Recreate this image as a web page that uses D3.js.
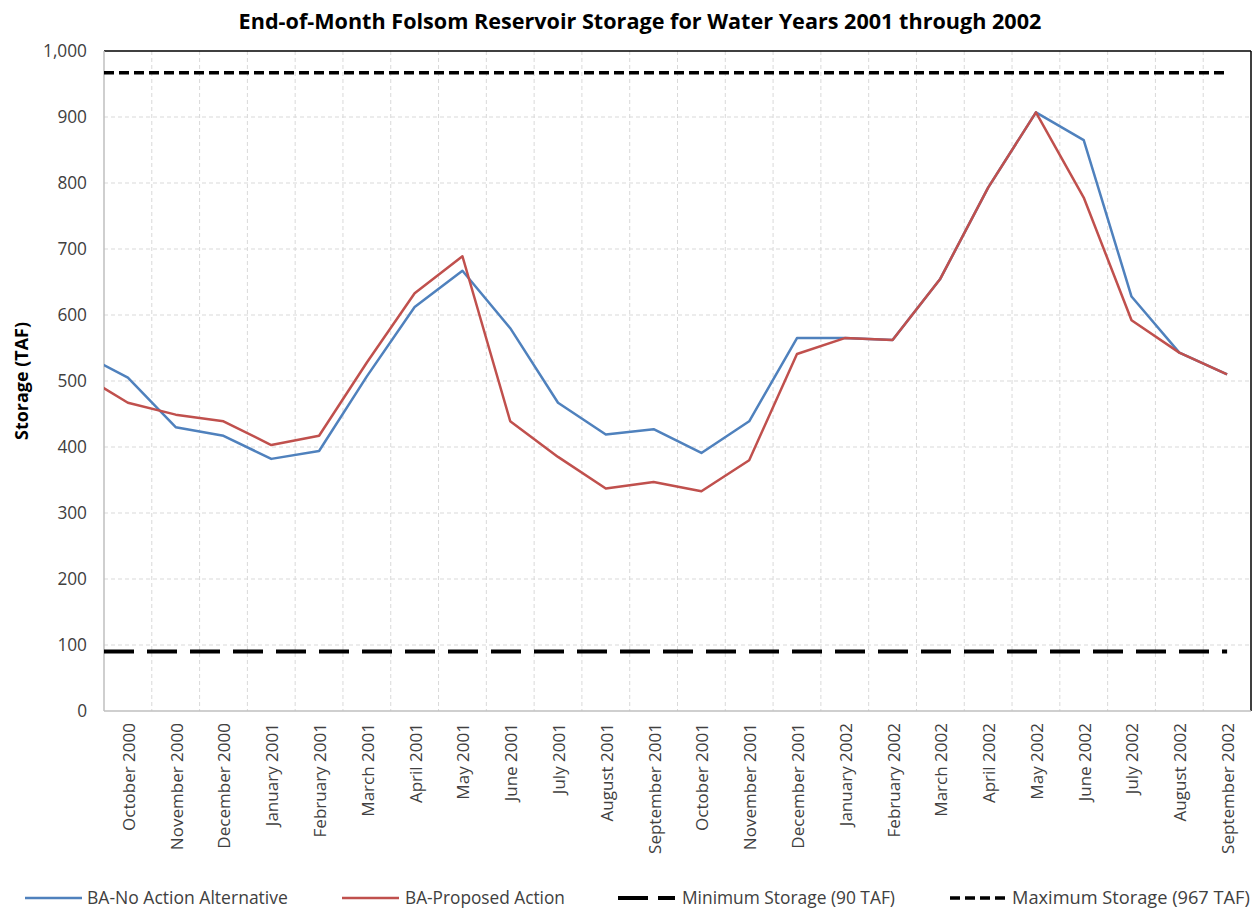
<!DOCTYPE html>
<html>
<head>
<meta charset="utf-8">
<script src="https://cdn.jsdelivr.net/npm/d3@7/dist/d3.min.js"></script>
<style>
  html, body { margin: 0; padding: 0; background: #fff; }
  text { font-family: "Open Sans", "Noto Sans", sans-serif; }
</style>
</head>
<body>
<svg id="chart" width="1259" height="910"></svg>
<script>
// ---------------- data ----------------
const months = ["October 2000","November 2000","December 2000","January 2001","February 2001","March 2001",
  "April 2001","May 2001","June 2001","July 2001","August 2001","September 2001",
  "October 2001","November 2001","December 2001","January 2002","February 2002","March 2002",
  "April 2002","May 2002","June 2002","July 2002","August 2002","September 2002"];
const noAction = [505, 430, 417, 382, 394, 507, 612, 667, 580, 467, 419, 427,
                  391, 439, 565, 565, 562, 655, 793, 907, 865, 628, 543, 510];
const proposed = [467, 449, 439, 403, 417, 528, 633, 689, 439, 385, 337, 347,
                  333, 380, 541, 565, 562, 655, 793, 907, 778, 592, 543, 510];
// end of September 2000 (preceding month, only its segment into the plot is visible)
const noActionPrior = 543;
const proposedPrior = 511;
const minStorage = 90;
const maxStorage = 967;
const yTicks = [0, 100, 200, 300, 400, 500, 600, 700, 800, 900, 1000];
const seriesNames = ["BA-No Action Alternative", "BA-Proposed Action", "Minimum Storage (90 TAF)", "Maximum Storage (967 TAF)"];
const titleText = "End-of-Month Folsom Reservoir Storage for Water Years 2001 through 2002";
const yLabel = "Storage (TAF)";

// ---------------- layout ----------------
const svg = d3.select("#chart");
const L = 104, R = 1251, T = 51, B = 711;
const blue = "#4F81BD", red = "#C0504D";

const x = d3.scaleBand().domain(months).range([L, R]).padding(0);
const y = d3.scaleLinear().domain([0, 1000]).range([B, T]);
const cx = d => x(d) + x.bandwidth() / 2;

function fit(sel, target) {
  const w = sel.node().getComputedTextLength();
  const fs = parseFloat(sel.attr("font-size"));
  sel.attr("font-size", (fs * target / w).toFixed(2));
}

// gridlines
const grid = svg.append("g");
grid.selectAll("line.h").data(yTicks.filter(t => t > 0 && t < 1000)).join("line")
  .attr("x1", L).attr("x2", R).attr("y1", d => y(d)).attr("y2", d => y(d))
  .attr("stroke", "#d9d9d9").attr("stroke-width", 1).attr("stroke-dasharray", "4,3");
grid.selectAll("line.v").data(months.slice(1)).join("line")
  .attr("x1", d => x(d)).attr("x2", d => x(d)).attr("y1", T).attr("y2", B)
  .attr("stroke", "#d9d9d9").attr("stroke-width", 1).attr("stroke-dasharray", "4,3");

// plot border (top/right dark), axes gray
svg.append("line").attr("x1", L).attr("x2", R).attr("y1", T).attr("y2", T).attr("stroke", "#000").attr("stroke-width", 1.5);
svg.append("line").attr("x1", R).attr("x2", R).attr("y1", T).attr("y2", B).attr("stroke", "#000").attr("stroke-width", 1.5);
svg.append("line").attr("x1", L).attr("x2", L).attr("y1", T).attr("y2", B).attr("stroke", "#bfbfbf").attr("stroke-width", 1.5);
svg.append("line").attr("x1", L).attr("x2", R).attr("y1", B).attr("y2", B).attr("stroke", "#bfbfbf").attr("stroke-width", 1.5);

// clip
svg.append("clipPath").attr("id", "clip").append("rect")
  .attr("x", L).attr("y", T - 5).attr("width", R - L).attr("height", B - T + 10);

const plot = svg.append("g").attr("clip-path", "url(#clip)");
const lastX = cx(months[months.length - 1]);

// min / max
plot.append("line").attr("x1", L).attr("x2", lastX).attr("y1", y(minStorage)).attr("y2", y(minStorage))
  .attr("stroke", "#000").attr("stroke-width", 4).attr("stroke-dasharray", "30,13");
plot.append("line").attr("x1", L).attr("x2", lastX).attr("y1", y(maxStorage)).attr("y2", y(maxStorage))
  .attr("stroke", "#000").attr("stroke-width", 3.5).attr("stroke-dasharray", "10,5");

const line = d3.line().x(d => d[0]).y(d => y(d[1]));
function pts(prior, arr) {
  const p = [[cx(months[0]) - x.bandwidth(), prior]];
  arr.forEach((v, i) => p.push([cx(months[i]), v]));
  return p;
}
plot.append("path").attr("d", line(pts(noActionPrior, noAction)))
  .attr("fill", "none").attr("stroke", blue).attr("stroke-width", 2.5).attr("stroke-linejoin", "round");
plot.append("path").attr("d", line(pts(proposedPrior, proposed)))
  .attr("fill", "none").attr("stroke", red).attr("stroke-width", 2.5).attr("stroke-linejoin", "round");

// y ticks
const yt = svg.append("g").selectAll("text").data(yTicks).join("text")
  .attr("x", 87).attr("y", d => y(d)).attr("dy", "0.35em").attr("text-anchor", "end")
  .attr("font-size", 14).attr("fill", "#404040")
  .text(d => d3.format(",")(d));
// fit by "1,000"
{
  const n = yt.filter(d => d === 1000);
  const w = n.node().getComputedTextLength();
  yt.attr("font-size", (14 * 44 / w).toFixed(2));
}

// x labels
const xt = svg.append("g").selectAll("text").data(months).join("text")
  .attr("transform", d => `translate(${cx(d) + 1},723) rotate(-90)`)
  .attr("dy", "0.35em").attr("text-anchor", "end")
  .attr("font-size", 14).attr("fill", "#404040")
  .text(d => d);
{
  const n = xt.filter(d => d === "October 2000");
  const w = n.node().getComputedTextLength();
  xt.attr("font-size", (14 * 108 / w).toFixed(2));
}

// title
const title = svg.append("text").attr("x", 640).attr("y", 29).attr("text-anchor", "middle")
  .attr("font-weight", "bold").attr("font-size", 19).attr("fill", "#000").text(titleText);
fit(title, 803);

// y label
const yl = svg.append("text").attr("transform", "translate(22,381) rotate(-90)")
  .attr("text-anchor", "middle").attr("dy", "0.35em")
  .attr("font-weight", "bold").attr("font-size", 15).attr("fill", "#000").text(yLabel);
fit(yl, 118);

// legend
const legendY = 898;
const leg = [
  { x0: 25, tx: 87, tw: 201, color: blue, w: 2.5, dash: null },
  { x0: 342, tx: 405, tw: 160, color: red, w: 2.5, dash: null },
  { x0: 618, tx: 682, tw: 213, color: "#000", w: 4, dash: "30,10" },
  { x0: 950, tx: 1012, tw: 238, color: "#000", w: 3.5, dash: "10,5" }
];
leg.forEach((l, i) => {
  const ln = svg.append("line").attr("x1", l.x0).attr("x2", l.x0 + 57).attr("y1", legendY).attr("y2", legendY)
    .attr("stroke", l.color).attr("stroke-width", l.w);
  if (l.dash) ln.attr("stroke-dasharray", l.dash);
  const t = svg.append("text").attr("x", l.tx).attr("y", legendY).attr("dy", "0.35em")
    .attr("font-size", 15).attr("fill", "#404040").text(seriesNames[i]);
  fit(t, l.tw);
});
</script>
</body>
</html>
